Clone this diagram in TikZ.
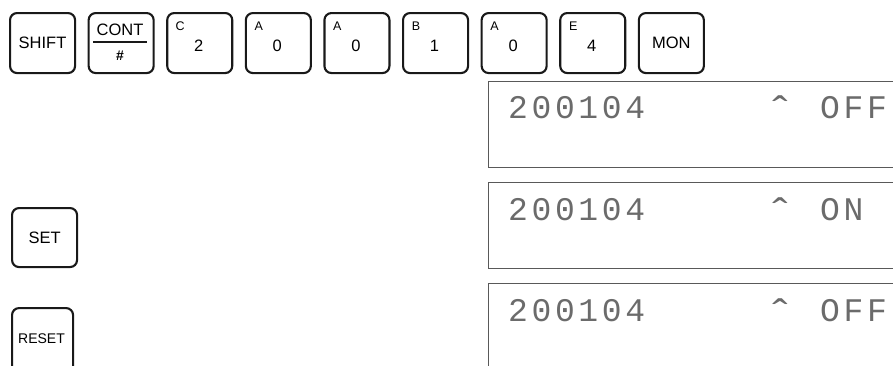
\documentclass[tikz,border=0pt]{standalone}
\usepackage{fontspec}
\setmainfont{Liberation Sans}
\newfontfamily\lcdfont[LetterSpace=11]{Liberation Mono}
\newfontfamily\caretfont{Liberation Mono}
\begin{document}
\begin{tikzpicture}[x=1pt,y=-1pt,
 key/.style={draw=black!90,line width=2.1pt,rounded corners=7pt,minimum width=65pt,minimum height=60pt,inner sep=0pt,anchor=north west,font=\fontsize{16.5}{16.5}\selectfont},
 lcdbox/.style={draw=black!65,line width=1.4pt,inner sep=0pt,anchor=north west,minimum width=430pt},
 lcd/.style={text=black!58,font=\lcdfont\fontsize{33}{33}\selectfont,inner sep=0pt,anchor=base west},
 caret/.style={text=black!58,font=\caretfont\fontsize{46}{46}\selectfont,inner sep=0pt,anchor=base},
 sub/.style={font=\fontsize{12.5}{12.5}\selectfont,inner sep=0pt},
 dig/.style={font=\fontsize{16.5}{16.5}\selectfont,inner sep=0pt}]
\useasboundingbox (0,0) rectangle (893,365);
% top row of keys
\node[key] (shift) at (9,12) {SHIFT};
\node[key] (cont) at (87.6,12) {};
\node[font=\fontsize{16.5}{16.5}\selectfont,inner sep=0pt] (conttxt) at (120.1,30) {CONT};
\coordinate (cl) at (93,42);
\coordinate (cr) at (147,42);
\draw[line width=2.1pt,black!90] (cl) -- (cr);
\node[font=\bfseries\fontsize{14}{14}\selectfont,inner sep=0pt] (hash) at (120.1,56) {\#};
\foreach \i/\l/\d in {2/C/2,3/A/0,4/A/0,5/B/1,6/A/0,7/E/4}{
  \node[key] (k\i) at ({9+78.6*\i},12) {};
  \node[sub] (l\i) at ({9+78.6*\i+14},26.5) {\l};
  \node[dig] (d\i) at ({9+78.6*\i+32.5},46) {\d};
}
\node[key] (mon) at (637.8,12) {MON};
% left keys
\node[key,minimum height=59pt] (set) at (11,207) {SET};
\node[key,minimum width=61pt,minimum height=72pt] (reset) at (11,307) {};
\node[font=\fontsize{14}{14}\selectfont,inner sep=0pt] (resettxt) at (41.5,339) {RESET};
% displays
\node[lcdbox,minimum height=86pt] (disp1) at (488,81) {};
\node[lcdbox,minimum height=86pt] (disp2) at (488,182) {};
\node[lcdbox,minimum height=92pt] (disp3) at (488,283) {};
\node[lcd] (a1) at (508,118) {200104};
\node[caret] (b1) at (780,128) {ˆ};
\node[lcd] (c1) at (820,118) {OFF};
\node[lcd] (a2) at (508,220) {200104};
\node[caret] (b2) at (780,230) {ˆ};
\node[lcd] (c2) at (820,220) {ON};
\node[lcd] (a3) at (508,321) {200104};
\node[caret] (b3) at (780,331) {ˆ};
\node[lcd] (c3) at (820,321) {OFF};
\end{tikzpicture}
\end{document}
